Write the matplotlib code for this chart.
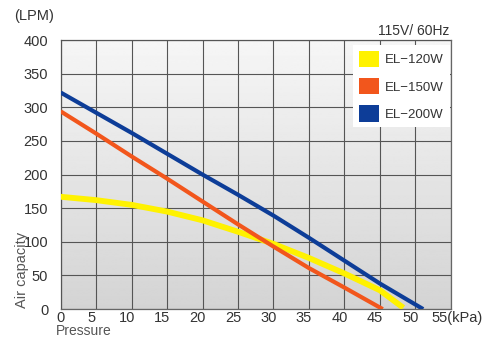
import numpy as np
import matplotlib
matplotlib.use("Agg")
import matplotlib.pyplot as plt
import matplotlib.transforms as mtransforms
from matplotlib.patches import Patch

plt.rcParams['font.family'] = ['Liberation Sans', 'DejaVu Sans']

p_120 = [0, 5, 10, 15, 20, 25, 30, 35, 40, 45, 48.3]
q_120 = [167, 162, 155, 145, 132, 115, 97, 76, 53, 28, 2]

p_150 = [0, 5, 10, 15, 20, 25, 30, 35, 40, 45.4]
q_150 = [294, 261, 227, 194, 160, 126, 93, 61, 32, 0]

p_200 = [0, 5, 10, 15, 20, 25, 30, 35, 40, 45, 51.1]
q_200 = [322, 292, 262, 231, 200, 170, 139, 106, 72, 38, 0]

models = ["EL\u2212120W", "EL\u2212150W", "EL\u2212200W"]
colors = ["#FFF200", "#F2561C", "#0D3D98"]

x_ticks = list(range(0, 56, 5))
x_labels = [str(v) for v in x_ticks[:-1]] + ["55(kPa)"]
y_ticks = list(range(0, 401, 50))

fig = plt.figure(figsize=(4.89, 3.45), dpi=100)
ax = fig.add_axes([0.124, 0.104, 0.798, 0.780])

# grey gradient background
grad = np.linspace(0.83, 0.965, 256).reshape(-1, 1)
ax.imshow(grad, extent=[0, 55, 0, 400], origin='lower', aspect='auto',
          cmap='gray', vmin=0, vmax=1, zorder=0)

ax.plot(p_120, q_120, color=colors[0], lw=4.2, solid_capstyle='butt', zorder=3)
ax.plot(p_150, q_150, color=colors[1], lw=3.0, solid_capstyle='butt', zorder=4)
ax.plot(p_200, q_200, color=colors[2], lw=3.0, solid_capstyle='butt', zorder=5)

ax.set_xlim(0, 55)
ax.set_ylim(0, 400)
ax.set_xticks(x_ticks)
ax.set_xticklabels(x_labels, fontsize=10.5, color='#333333')
ax.set_yticks(y_ticks)
ax.set_yticklabels([str(v) for v in y_ticks], fontsize=10.5, color='#333333')
ax.tick_params(length=0)
ax.tick_params(axis='x', pad=1)
ax.tick_params(axis='y', pad=9)
ax.grid(True, color='#555555', lw=0.8, zorder=1)
ax.set_axisbelow(False)
for s in ax.spines.values():
    s.set_color('#666666')
    s.set_linewidth(0.9)

# x labels sit a little to the left of the grid lines
labs = ax.get_xticklabels()
for i, t in enumerate(labs):
    if i == 0:
        continue
    if i == len(labs) - 1:
        t.set_ha('left')
        t.set_transform(t.get_transform() + mtransforms.ScaledTranslation(-19 / 100, 0, fig.dpi_scale_trans))
    else:
        t.set_transform(t.get_transform() + mtransforms.ScaledTranslation(-5 / 100, 0, fig.dpi_scale_trans))

handles = [Patch(facecolor=c, edgecolor='none') for c in colors]
leg = ax.legend(handles, models, loc='upper right', bbox_to_anchor=(0.997, 0.982),
                fontsize=9.5, frameon=True, fancybox=False, framealpha=1,
                handlelength=1.5, handleheight=1.5, handletextpad=0.45,
                labelspacing=0.85, borderpad=0.45, borderaxespad=0.0)
leg.get_frame().set_facecolor('white')
leg.get_frame().set_edgecolor('none')
for t in leg.get_texts():
    t.set_color('#333333')
leg.set_zorder(10)

fig.text(14 / 489, 1 - 16 / 345, "(LPM)", fontsize=10.5, color='#333333', va='center')
fig.text(449 / 489, 1 - 31 / 345, "115V/ 60Hz", fontsize=10, color='#333333',
         ha='right', va='center')
fig.text(22 / 489, 1 - 270 / 345, "Air capacity", fontsize=10.5, color='#555555',
         rotation=90, ha='center', va='center')
fig.text(56 / 489, 1 - 331 / 345, "Pressure", fontsize=10, color='#555555', va='center')

fig.savefig("out.png", dpi=100)
